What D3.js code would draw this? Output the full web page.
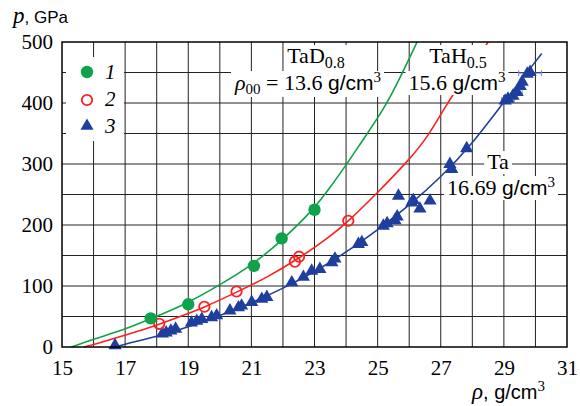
<!DOCTYPE html>
<html>
<head>
<meta charset="utf-8">
<script src="https://cdn.jsdelivr.net/npm/d3@7"></script>
<style>
  body { margin: 0; background: #fff; }
  svg { display: block; }
  .serif { font-family: "Liberation Serif", "DejaVu Serif", serif; }
  .sans { font-family: "Liberation Sans", Arial, sans-serif; }
</style>
</head>
<body>
<script>
// axis ticks
var xTicks = [15, 17, 19, 21, 23, 25, 27, 29, 31];
var yTicks = [0, 100, 200, 300, 400, 500];

// 1: TaD0.8 (rho, p)
var tadPoints = [[17.81, 47], [19.0, 70], [21.08, 133], [21.96, 178], [23.0, 225]];
var tadCurve = [[15.3, 0], [16, 13], [17, 29], [17.8, 46], [19, 72], [20, 102], [21, 133],
  [22, 176], [23, 227], [23.5, 262], [24, 298], [24.5, 337], [25.2, 390], [25.7, 440], [26.25, 500]];

// 2: TaH0.5
var tahPoints = [[18.08, 38], [19.51, 66], [20.53, 91], [22.38, 140], [22.51, 148], [24.07, 207]];
var tahCurve = [[15.7, 0], [16, 4], [17, 19], [18.08, 37], [19, 55], [19.5, 65], [20.5, 89],
  [21.5, 114], [22.5, 145], [23.5, 181], [24.07, 206], [25, 253], [26, 307], [26.6, 345],
  [27.2, 400], [27.9, 452], [28.5, 500]];

// 3: Ta
var taPoints = [[16.68, 1], [18.18, 20], [18.3, 22], [18.45, 25], [18.6, 28], [19.1, 38],
  [19.27, 41], [19.43, 44], [19.74, 47], [19.9, 50], [20.32, 58], [20.59, 63], [20.69, 66],
  [21.01, 72], [21.33, 77], [21.49, 80], [22.28, 104], [22.65, 113], [22.91, 123], [23.17, 126],
  [23.55, 137], [23.65, 143], [24.39, 167], [24.5, 170], [25.18, 197], [25.3, 201], [25.55, 206],
  [25.62, 212], [25.66, 246], [26.08, 235], [26.13, 239], [26.34, 225], [26.66, 238],
  [27.29, 298], [27.35, 290], [27.82, 324], [29.04, 402], [29.13, 405], [29.29, 410],
  [29.42, 416], [29.52, 426], [29.58, 433], [29.74, 446], [29.83, 449]];
var taErrors = [[29.83, 449, 0.36], [29.42, 416, 0.16], [29.13, 405, 0.2]];
var taCurve = [[16.69, 0], [17, 5], [18, 17], [19, 33], [20, 51], [21, 72], [22, 96], [23, 123],
  [24, 155], [25, 192], [26, 232], [27, 278], [28, 333], [29, 402], [30.2, 481]];

var green = '#10a24a', red = '#ff1f1f', blue = '#1f3f9f';

var width = 580, height = 406;
var pLeft = 62, pRight = 567, pTop = 42, pBottom = 347;

var svg = d3.select('body').append('svg')
    .attr('width', width)
    .attr('height', height);

var x = d3.scaleLinear().domain([15, 31]).range([pLeft, pRight]);
var y = d3.scaleLinear().domain([0, 500]).range([pBottom, pTop]);

// grid
svg.append('g').selectAll('line')
    .data(d3.range(16, 31))
    .enter().append('line')
    .attr('x1', d => x(d)).attr('x2', d => x(d))
    .attr('y1', pTop).attr('y2', pBottom)
    .attr('stroke', '#222').attr('stroke-width', 1);
svg.append('g').selectAll('line')
    .data(d3.range(50, 500, 50))
    .enter().append('line')
    .attr('x1', pLeft).attr('x2', pRight)
    .attr('y1', d => y(d)).attr('y2', d => y(d))
    .attr('stroke', '#222').attr('stroke-width', 1);

// curves
var line = d3.line()
    .x(d => x(d[0]))
    .y(d => y(d[1]))
    .curve(d3.curveBasis);

[[tadCurve, green], [tahCurve, red], [taCurve, blue]].forEach(function (c) {
  svg.append('path')
      .attr('d', line(c[0]))
      .attr('fill', 'none')
      .attr('stroke', c[1])
      .attr('stroke-width', 1.6);
});

// labels with white backing
function label(parts, tx, ty, anchor) {
  var t = svg.append('text')
      .attr('x', tx).attr('y', ty)
      .attr('text-anchor', anchor || 'start');
  parts.forEach(function (p) {
    var s = t.append('tspan')
        .attr('class', p.c || 'serif')
        .style('font-size', (p.s || 22) + 'px')
        .style('font-style', p.i ? 'italic' : 'normal')
        .text(p.t);
    if (p.b) s.attr('dy', p.b);
  });
  var b = t.node().getBBox();
  svg.insert('rect', function () { return t.node(); })
      .attr('x', b.x - 3).attr('y', b.y + 2)
      .attr('width', b.width + 6).attr('height', b.height - 2)
      .attr('fill', '#fff');
  return t;
}

label([{t: 'TaD'}, {t: '0.8', s: 16, b: 5}], 316, 63, 'middle');
label([{t: 'ρ', i: true}, {t: '00', s: 15, b: 4}, {t: ' = 13.6 ', b: -4}, {t: 'g/cm', c: 'sans', s: 21},
  {t: '3', s: 15, b: -8}], 308, 90, 'middle');
label([{t: 'TaH'}, {t: '0.5', s: 16, b: 5}], 458, 63, 'middle');
label([{t: '15.6 '}, {t: 'g/cm', c: 'sans', s: 21}, {t: '3', s: 15, b: -8}], 457, 90, 'middle');
label([{t: 'Ta'}], 498, 169, 'middle');
label([{t: '16.69 '}, {t: 'g/cm', c: 'sans', s: 21}, {t: '3', s: 15, b: -8}], 501, 195, 'middle');

// legend box
svg.append('rect')
    .attr('x', 66).attr('y', 57).attr('width', 58).attr('height', 84)
    .attr('fill', '#fff');

var tri = d3.symbol().type(d3.symbolTriangle).size(75);

// error bars
svg.append('g').selectAll('path')
    .data(taErrors)
    .enter().append('path')
    .attr('d', d => 'M' + x(d[0] - d[2]) + ',' + y(d[1]) + 'H' + x(d[0] + d[2]) +
      'M' + x(d[0] - d[2]) + ',' + (y(d[1]) - 3) + 'v6' +
      'M' + x(d[0] + d[2]) + ',' + (y(d[1]) - 3) + 'v6')
    .attr('stroke', '#6f86d6').attr('stroke-width', 1).attr('fill', 'none');

// points
svg.append('g').selectAll('path')
    .data(taPoints)
    .enter().append('path')
    .attr('d', tri)
    .attr('transform', d => 'translate(' + x(d[0]) + ',' + (y(d[1]) - 1) + ')')
    .attr('fill', blue);

svg.append('g').selectAll('circle')
    .data(tahPoints)
    .enter().append('circle')
    .attr('cx', d => x(d[0])).attr('cy', d => y(d[1]))
    .attr('r', 5.2)
    .attr('fill', 'none').attr('stroke', red).attr('stroke-width', 1.8);

svg.append('g').selectAll('circle')
    .data(tadPoints)
    .enter().append('circle')
    .attr('cx', d => x(d[0])).attr('cy', d => y(d[1]))
    .attr('r', 6.2)
    .attr('fill', green);

// legend
svg.append('circle').attr('cx', 87).attr('cy', 72).attr('r', 6.2).attr('fill', green);
svg.append('circle').attr('cx', 87).attr('cy', 100).attr('r', 5.2)
    .attr('fill', 'none').attr('stroke', red).attr('stroke-width', 1.8);
svg.append('path').attr('d', tri).attr('transform', 'translate(87,126)').attr('fill', blue);
['1', '2', '3'].forEach(function (s, i) {
  svg.append('text')
      .attr('class', 'serif')
      .attr('x', 105).attr('y', 79 + i * 27)
      .style('font-size', '21px').style('font-style', 'italic')
      .text(s);
});

// frame
svg.append('rect')
    .attr('x', pLeft).attr('y', pTop)
    .attr('width', pRight - pLeft).attr('height', pBottom - pTop)
    .attr('fill', 'none').attr('stroke', '#000').attr('stroke-width', 1.5);

// axes
var xAxis = svg.append('g')
    .attr('transform', 'translate(0,' + pBottom + ')')
    .call(d3.axisBottom(x).tickValues(xTicks).tickSize(0).tickPadding(13));
var yAxis = svg.append('g')
    .attr('transform', 'translate(' + pLeft + ',0)')
    .call(d3.axisLeft(y).tickValues(yTicks).tickSize(0).tickPadding(9));
[xAxis, yAxis].forEach(function (a) {
  a.select('.domain').remove();
  a.selectAll('text')
      .attr('class', 'serif')
      .style('font-size', '21px')
      .attr('fill', '#000');
});

// axis titles
var yt = svg.append('text').attr('x', 13).attr('y', 23);
yt.append('tspan').attr('class', 'serif').style('font-size', '23px').style('font-style', 'italic').text('p');
yt.append('tspan').attr('class', 'sans').style('font-size', '17px').text(', GPa');

var xt = svg.append('text').attr('x', 472).attr('y', 399);
xt.append('tspan').attr('class', 'serif').style('font-size', '23px').style('font-style', 'italic').text('ρ');
xt.append('tspan').attr('class', 'sans').style('font-size', '20px').text(', g/cm');
xt.append('tspan').attr('class', 'serif').style('font-size', '15px').attr('dy', -8).text('3');
</script>
</body>
</html>
